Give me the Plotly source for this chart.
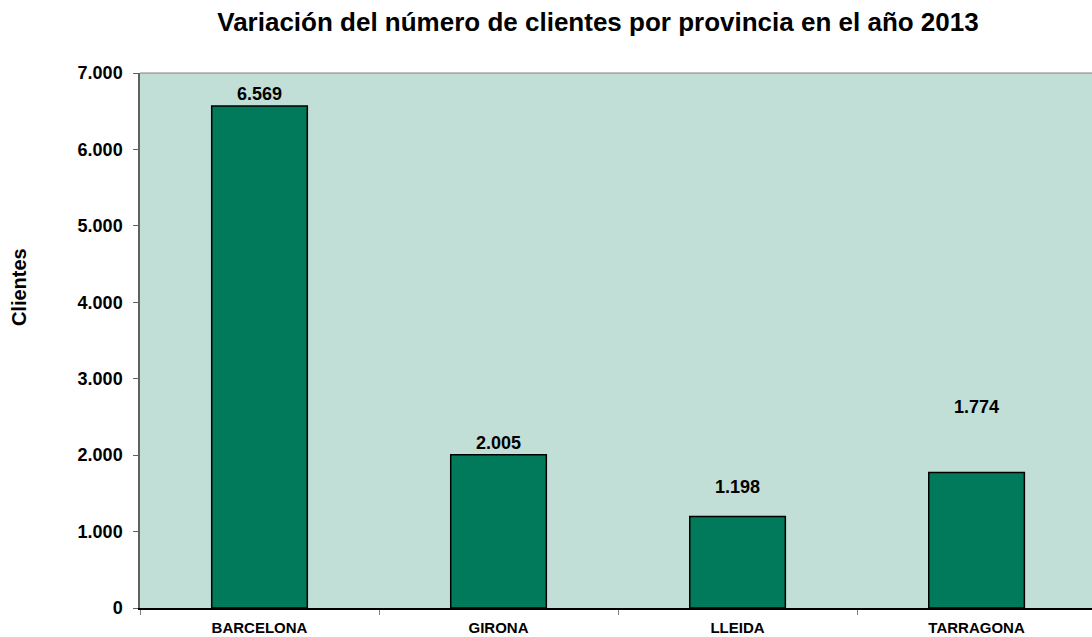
import plotly.graph_objects as go

provincias = ["BARCELONA", "GIRONA", "LLEIDA", "TARRAGONA"]
clientes = [6569, 2005, 1198, 1774]
label_shift = [12, 12, 29, 65]  # pixel offset of value-label centres above bars (style)
y_ticks = [0, 1000, 2000, 3000, 4000, 5000, 6000, 7000]

BAR = "#007A5A"
BG = "#C1DED7"
FONT = "Liberation Sans, Arial, sans-serif"

fig = go.Figure()
fig.add_trace(go.Bar(
    x=provincias, y=clientes,
    marker=dict(color=BAR, line=dict(color="#000000", width=1.5)),
    hoverinfo="x+y",
))

annotations = []
for p, v, s in zip(provincias, clientes, label_shift):
    annotations.append(dict(
        x=p, y=v, xref="x", yref="y",
        text=f"<b>{v:,}</b>".replace(",", "."),
        showarrow=False, yanchor="middle", yshift=s,
        font=dict(family=FONT, size=18, color="#000000"),
    ))
annotations.append(dict(
    x=-0.127, y=0.6, xref="paper", yref="paper", xanchor="center", yanchor="middle",
    text="<b>Clientes</b>", textangle=-90, showarrow=False,
    font=dict(family=FONT, size=20, color="#000000"),
))

fig.update_layout(
    width=1092, height=637,
    margin=dict(l=140, r=0, t=73, b=29),
    paper_bgcolor="#FFFFFF", plot_bgcolor=BG,
    separators=",.",
    bargap=0.6,
    showlegend=False,
    title=dict(
        text="<b>Variación del número de clientes por provincia en el año 2013</b>",
        x=0.5476, xanchor="center", y=0.9655, yanchor="middle",
        font=dict(family=FONT, size=26, color="#000000"),
    ),
    annotations=annotations,
    shapes=[dict(type="line", xref="paper", yref="paper", x0=0, x1=1, y0=1, y1=1,
                 line=dict(color="#808080", width=1))],
    xaxis=dict(
        range=[-0.5, 3.483],
        showline=True, linecolor="#000000", linewidth=1.5,
        ticks="outside", tickson="boundaries", ticklen=5, tickcolor="#808080",
        ticklabelstandoff=5,
        tickfont=dict(family=FONT, size=15, color="#000000", weight="bold"),
        showgrid=False, zeroline=False,
    ),
    yaxis=dict(
        range=[0, 7000], tickvals=y_ticks, tickformat=",.0f",
        showline=True, linecolor="#606060", linewidth=1.5,
        ticks="outside", ticklen=5, tickcolor="#606060",
        ticklabelstandoff=7,
        tickfont=dict(family=FONT, size=18, color="#000000", weight="bold"),
        showgrid=False, zeroline=False,
    ),
)

fig.write_html(
    "out.html",
    config={"displayModeBar": False},
    post_script="document.body.style.margin='0';document.body.style.overflow='hidden';",
)
